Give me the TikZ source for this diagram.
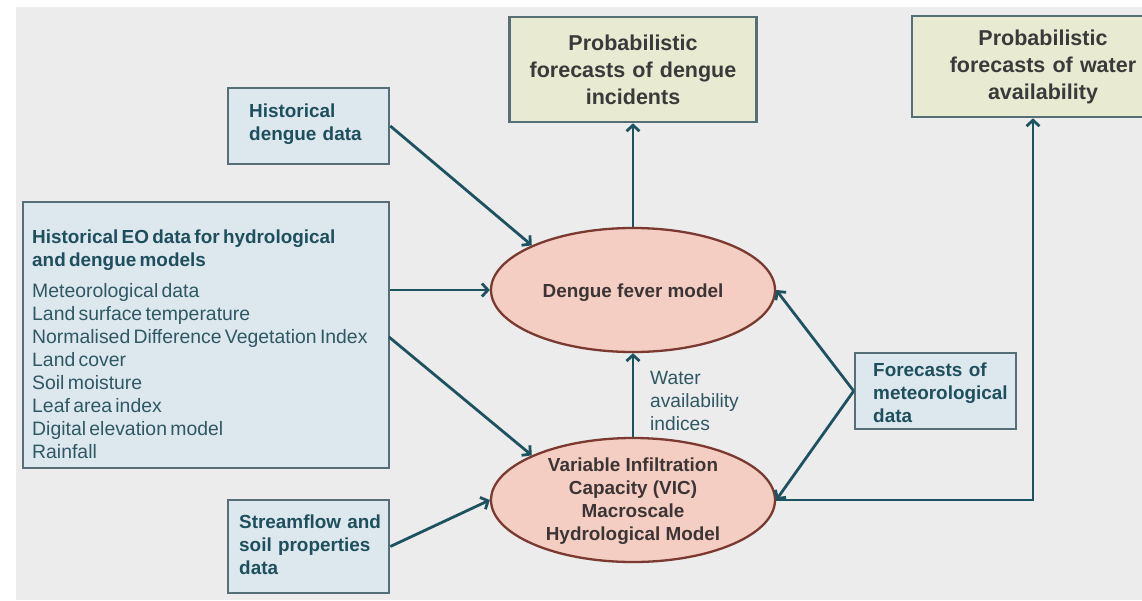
\documentclass[tikz,border=0pt]{standalone}
\usepackage{fontspec}
\setmainfont{Liberation Sans}
\usetikzlibrary{arrows.meta,shapes.geometric}
\definecolor{bg}{HTML}{ECECEC}
\definecolor{bluefill}{HTML}{DDE7EE}
\definecolor{boxline}{HTML}{566E76}
\definecolor{yelfill}{HTML}{E8EBD2}
\definecolor{ellfill}{HTML}{F4CEC3}
\definecolor{ellline}{HTML}{7A3A30}
\definecolor{arrowc}{HTML}{1D5361}
\definecolor{tealtext}{HTML}{1E4F5C}
\definecolor{listtext}{HTML}{2E5863}
\definecolor{darktext}{HTML}{3A3A3A}
\definecolor{elltext}{HTML}{3D3535}
\begin{document}
\begin{tikzpicture}[x=1pt,y=-1pt,
  bluebox/.style={draw=boxline, line width=2.6pt, fill=bluefill, rectangle, inner sep=0pt},
  yelbox/.style={draw=boxline, line width=2.6pt, fill=yelfill, rectangle, inner sep=0pt,
    align=center, text=darktext, font=\fontsize{21.5}{27}\selectfont\bfseries},
  ellnode/.style={draw=ellline, line width=2.3pt, fill=ellfill, ellipse, inner sep=0pt,
    minimum width=284pt, minimum height=124pt},
  btxt/.style={inner sep=0pt, anchor=west, align=left, text=tealtext,
    font=\fontsize{18.9}{23}\selectfont\bfseries},
  etxt/.style={inner sep=0pt, align=center, text=elltext,
    font=\fontsize{18.9}{23}\selectfont\bfseries},
  arr/.style={draw=arrowc, line width=2.8pt, -{Straight Barb[length=6pt,width=13pt]}}
]
\useasboundingbox (0,0) rectangle (1142,600);
\clip (0,0) rectangle (1142,600);
\fill[white] (0,0) rectangle (1142,600);
\fill[bg] (16,7) rectangle (1142,600);

% input boxes
\node[bluebox, minimum width=161pt, minimum height=76pt] (hd) at (308.5,126) {};
\node[btxt, text width=130pt] (hdt) at (249,124) {Historical\\dengue data};

\node[bluebox, minimum width=366pt, minimum height=266pt] (eo) at (206,335) {};
\node[inner sep=0pt, anchor=west, align=left, text width=354pt] (eot) at (32,344)
 {{\color{tealtext}\fontsize{18.9}{22.5}\selectfont\bfseries Historical EO data for hydrological\\and dengue models\par}\vspace{8pt}%
  {\color{listtext}\fontsize{19.4}{23}\selectfont Meteorological data\\Land surface temperature\\Normalised Difference Vegetation Index\\Land cover\\Soil moisture\\Leaf area index\\Digital elevation model\\Rainfall\par}};

\node[bluebox, minimum width=161pt, minimum height=93pt] (sf) at (308.5,546.5) {};
\node[btxt, text width=150pt] (sft) at (239,545) {Streamflow and\\soil properties\\data};

\node[bluebox, minimum width=161pt, minimum height=76pt] (met) at (935.5,391) {};
\node[btxt, text width=140pt] (mett) at (873,393) {Forecasts of\\meteorological\\data};

% output boxes
\node[yelbox, minimum width=247pt, minimum height=105pt, text width=240pt] (pd) at (633,69.5)
 {Probabilistic\\forecasts of dengue\\incidents};
\node[yelbox, minimum width=262pt, minimum height=101pt, text width=250pt] (pw) at (1043,66.5)
 {Probabilistic\\forecasts of water\\availability};

% models
\node[ellnode] (dg) at (633,290) {};
\node[etxt] (dgt) at (633,293) {Dengue fever model};
\node[ellnode] (vic) at (633,500) {};
\node[etxt] (vict) at (633,501) {Variable Infiltration\\Capacity (VIC)\\Macroscale\\Hydrological Model};

\node[inner sep=0pt, anchor=west, align=left, text=listtext,
  font=\fontsize{19.2}{23}\selectfont] (wai) at (650,401) {Water\\availability\\indices};

% connectors
\draw[arr] (hd.east) -- (dg.north west);
\draw[arr] (eo.east |- dg.west) -- (dg.west);
\coordinate (eo2) at (389,337);
\draw[arr] (eo2) -- (vic.north west);
\draw[arr] (sf.east) -- (vic.west);
\draw[arr] (dg.north) -- (pd.south);
\draw[arr] (vic.north) -- (dg.south);
\draw[arr] (met.west) -- (dg.east);
\draw[arr] (met.west) -- (vic.east);
\coordinate (wbend) at (1033,500);
\draw[arr] (vic.east) -- (wbend) -- (wbend |- pw.south);
\end{tikzpicture}
\end{document}
